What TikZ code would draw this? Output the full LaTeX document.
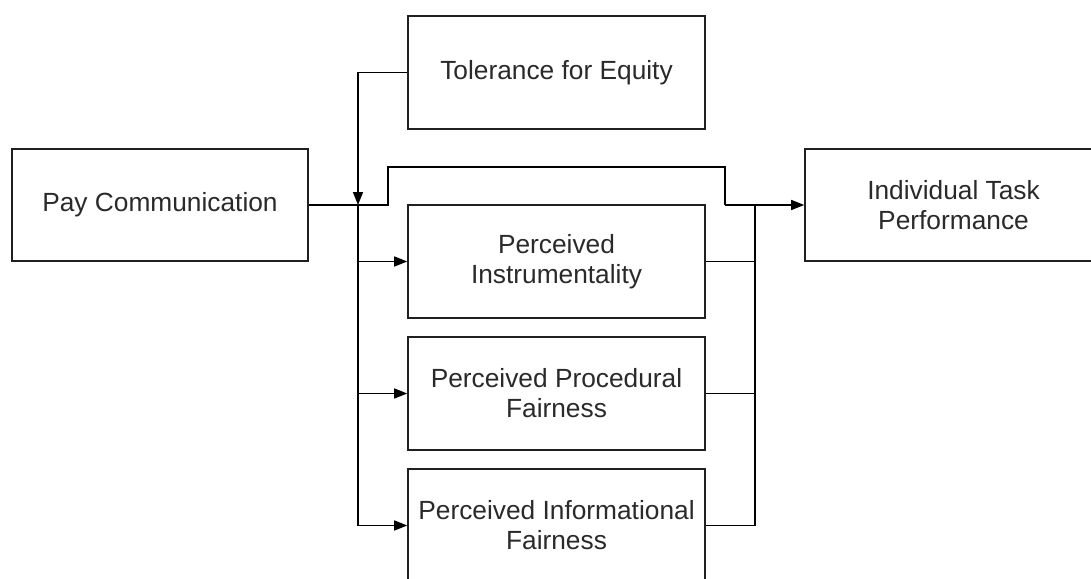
\documentclass[tikz,border=0pt]{standalone}
\usepackage{fontspec}
\setmainfont{Liberation Sans}
\usetikzlibrary{arrows.meta}
\definecolor{txt}{HTML}{2A2A2A}
\definecolor{edge}{HTML}{202020}
\tikzset{
  box/.style={draw=edge, line width=1.6pt, minimum width=297pt, minimum height=113pt,
    inner sep=2pt, align=center, text=txt,
    font=\fontsize{26.3}{30}\selectfont},
  conn/.style={draw=black, line width=1.5pt},
  arr/.style={conn, -{Triangle[length=13pt,width=10pt]}}
}
\begin{document}
\begin{tikzpicture}[x=1pt,y=-1pt]
\fill[white] (0,0) rectangle (1091,578);
\useasboundingbox (0,0) rectangle (1091,578);
\clip (0,0) rectangle (1091,578);
\node[box, minimum height=112pt, minimum width=296pt] (pay) at (160,205) {Pay Communication};
\node[box] (tol) at (556.5,72.5) {Tolerance for Equity};
\node[box] (instr) at (556.5,261.5) {Perceived\\Instrumentality};
\node[box] (proc) at (556.5,393.5) {Perceived Procedural\\Fairness};
\node[box] (info) at (556.5,525.5) {Perceived Informational\\Fairness};
\node[box, minimum height=112pt] (ind) at (953.5,205) {Individual Task\\Performance};
\coordinate (j) at (358,205);
\coordinate (s1) at (388,205);
\coordinate (s2) at (388,167);
\coordinate (s3) at (725,167);
\coordinate (s4) at (725,205);
\coordinate (r) at (755,205);
% moderator
\draw[arr] (tol.west) -| (j);
% direct path
\draw[conn] (pay.east) -- (s1) -- (s2) -- (s3) -- (s4);
\draw[arr] (s4) -- (ind.west);
% left bus
\draw[conn] (j) -- (j |- info.west);
\draw[arr] (j |- instr.west) -- (instr.west);
\draw[arr] (j |- proc.west) -- (proc.west);
\draw[arr] (j |- info.west) -- (info.west);
% right bus
\draw[conn] (r) -- (r |- info.east);
\draw[conn] (instr.east) -- (r |- instr.east);
\draw[conn] (proc.east) -- (r |- proc.east);
\draw[conn] (info.east) -- (r |- info.east);
\end{tikzpicture}
\end{document}
